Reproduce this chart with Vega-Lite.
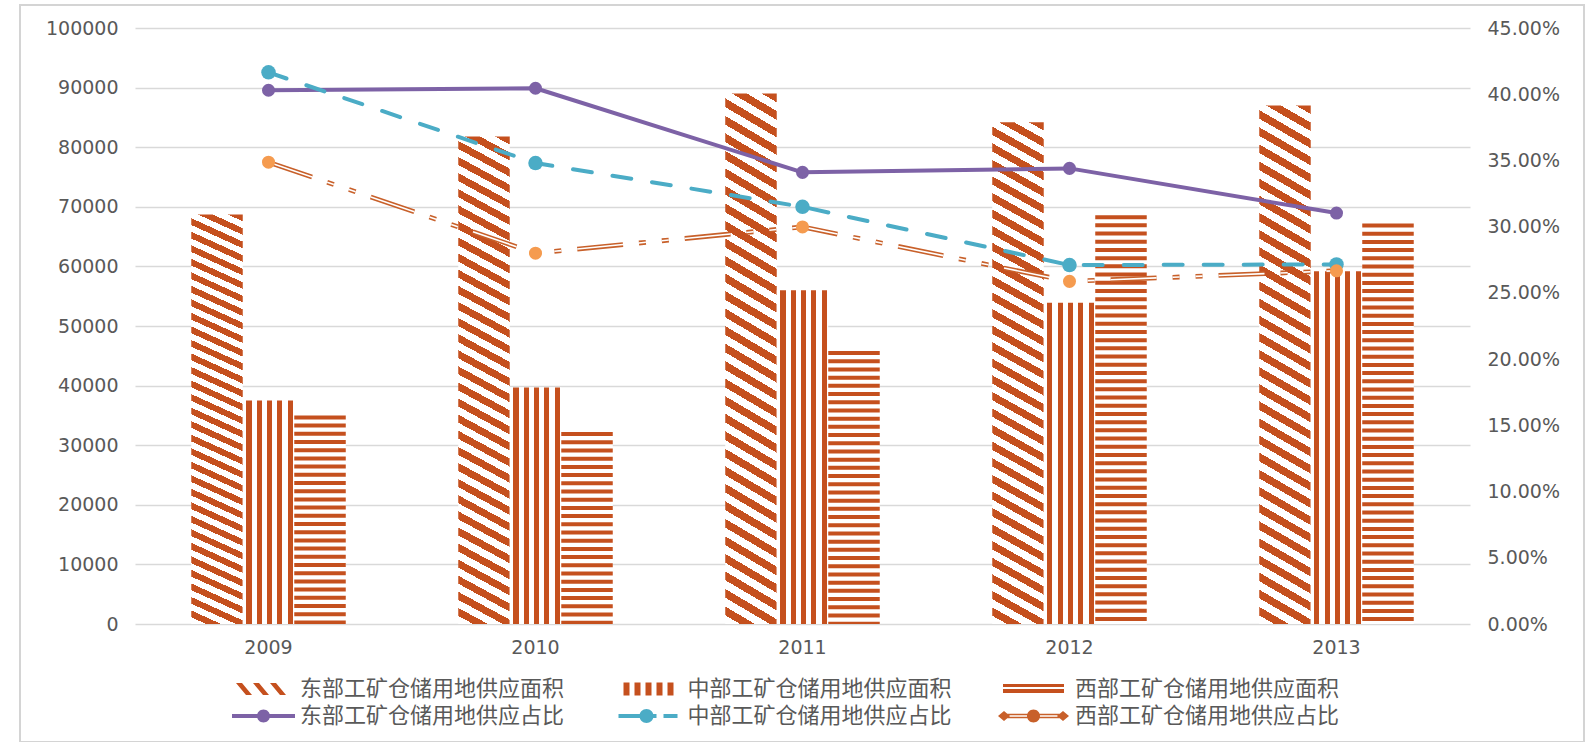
{
  "$schema": "https://vega.github.io/schema/vega-lite/v6.json",
  "autosize": "none",
  "width": 1564,
  "height": 737,
  "padding": {"left": 20, "top": 5, "right": 3, "bottom": 0},
  "view": {"stroke": "#d4d4d4", "strokeWidth": 2},
  "config": {
    "font": "DejaVu Sans",
    "axis": {"labelFont": "DejaVu Sans", "labelFontSize": 19, "labelColor": "#595959"},
    "legend": {"labelFont": "Noto Sans CJK SC"}
  },
  "datasets": {
    "面积": [
      {"年份": "2009", "区域": "东部", "值": 68700},
      {"年份": "2009", "区域": "中部", "值": 37500},
      {"年份": "2009", "区域": "西部", "值": 35000},
      {"年份": "2010", "区域": "东部", "值": 81800},
      {"年份": "2010", "区域": "中部", "值": 39700},
      {"年份": "2010", "区域": "西部", "值": 32200},
      {"年份": "2011", "区域": "东部", "值": 89000},
      {"年份": "2011", "区域": "中部", "值": 56000},
      {"年份": "2011", "区域": "西部", "值": 45800},
      {"年份": "2012", "区域": "东部", "值": 84200},
      {"年份": "2012", "区域": "中部", "值": 53900},
      {"年份": "2012", "区域": "西部", "值": 68600},
      {"年份": "2013", "区域": "东部", "值": 87000},
      {"年份": "2013", "区域": "中部", "值": 59200},
      {"年份": "2013", "区域": "西部", "值": 67200}
    ],
    "占比": [
      {"年份": "2009", "区域": "东部", "占比": 0.403},
      {"年份": "2010", "区域": "东部", "占比": 0.4045},
      {"年份": "2011", "区域": "东部", "占比": 0.341},
      {"年份": "2012", "区域": "东部", "占比": 0.344},
      {"年份": "2013", "区域": "东部", "占比": 0.3103},
      {"年份": "2009", "区域": "中部", "占比": 0.4165},
      {"年份": "2010", "区域": "中部", "占比": 0.348},
      {"年份": "2011", "区域": "中部", "占比": 0.315},
      {"年份": "2012", "区域": "中部", "占比": 0.271},
      {"年份": "2013", "区域": "中部", "占比": 0.2715},
      {"年份": "2009", "区域": "西部", "占比": 0.3487},
      {"年份": "2010", "区域": "西部", "占比": 0.28},
      {"年份": "2011", "区域": "西部", "占比": 0.2998},
      {"年份": "2012", "区域": "西部", "占比": 0.2587},
      {"年份": "2013", "区域": "西部", "占比": 0.2667}
    ],
    "图例": [
      {"系列": "东部工矿仓储用地供应面积"},
      {"系列": "中部工矿仓储用地供应面积"},
      {"系列": "西部工矿仓储用地供应面积"},
      {"系列": "东部工矿仓储用地供应占比"},
      {"系列": "中部工矿仓储用地供应占比"},
      {"系列": "西部工矿仓储用地供应占比"}
    ]
  },
  "layer": [
    {
      "data": {"name": "面积"},
      "layer": [
        {
          "transform": [{"filter": {"field": "区域", "equal": "西部"}}],
          "mark": {"type": "bar", "fill": "#ffffff", "stroke": null},
          "encoding": {
            "x": {
              "field": "年份", "type": "ordinal",
              "scale": {"range": [115, 1450], "paddingInner": 0.4213, "paddingOuter": 0.2107},
              "axis": {
                "title": null, "orient": "bottom", "offset": -95, "ticks": false, "domain": false,
                "grid": false, "labelAngle": 0, "labelBaseline": "middle", "labelPadding": 0
              }
            },
            "xOffset": {"field": "区域", "type": "nominal", "scale": {"domain": ["东部", "中部", "西部"], "paddingInner": 0, "paddingOuter": 0}},
            "y": {
              "field": "值", "type": "quantitative",
              "scale": {"domain": [0, 100000], "range": [619, 23], "nice": false},
              "axis": {
                "title": null, "orient": "left", "offset": -98, "format": "d",
                "values": [0, 10000, 20000, 30000, 40000, 50000, 60000, 70000, 80000, 90000, 100000],
                "domain": false, "ticks": false, "labelPadding": 0,
                "grid": true, "gridColor": "#d9d9d9", "gridWidth": 1.3
              }
            }
          }
        },
        {
          "transform": [{"filter": {"field": "区域", "equal": "东部"}}],
          "mark": {
            "type": "bar", "stroke": null,
            "fill": {
              "gradient": "linear", "x1": 1, "y1": 0, "x2": 0.9398, "y2": 1.0537,
              "stops": [
                {"offset": 0, "color": "#c5501e"}, {"offset": 0.015625, "color": "#c5501e"}, {"offset": 0.015625, "color": "#ffffff"}, {"offset": 0.03125, "color": "#ffffff"},
                {"offset": 0.03125, "color": "#c5501e"}, {"offset": 0.046875, "color": "#c5501e"}, {"offset": 0.046875, "color": "#ffffff"}, {"offset": 0.0625, "color": "#ffffff"},
                {"offset": 0.0625, "color": "#c5501e"}, {"offset": 0.078125, "color": "#c5501e"}, {"offset": 0.078125, "color": "#ffffff"}, {"offset": 0.09375, "color": "#ffffff"},
                {"offset": 0.09375, "color": "#c5501e"}, {"offset": 0.109375, "color": "#c5501e"}, {"offset": 0.109375, "color": "#ffffff"}, {"offset": 0.125, "color": "#ffffff"},
                {"offset": 0.125, "color": "#c5501e"}, {"offset": 0.140625, "color": "#c5501e"}, {"offset": 0.140625, "color": "#ffffff"}, {"offset": 0.15625, "color": "#ffffff"},
                {"offset": 0.15625, "color": "#c5501e"}, {"offset": 0.171875, "color": "#c5501e"}, {"offset": 0.171875, "color": "#ffffff"}, {"offset": 0.1875, "color": "#ffffff"},
                {"offset": 0.1875, "color": "#c5501e"}, {"offset": 0.203125, "color": "#c5501e"}, {"offset": 0.203125, "color": "#ffffff"}, {"offset": 0.21875, "color": "#ffffff"},
                {"offset": 0.21875, "color": "#c5501e"}, {"offset": 0.234375, "color": "#c5501e"}, {"offset": 0.234375, "color": "#ffffff"}, {"offset": 0.25, "color": "#ffffff"},
                {"offset": 0.25, "color": "#c5501e"}, {"offset": 0.265625, "color": "#c5501e"}, {"offset": 0.265625, "color": "#ffffff"}, {"offset": 0.28125, "color": "#ffffff"},
                {"offset": 0.28125, "color": "#c5501e"}, {"offset": 0.296875, "color": "#c5501e"}, {"offset": 0.296875, "color": "#ffffff"}, {"offset": 0.3125, "color": "#ffffff"},
                {"offset": 0.3125, "color": "#c5501e"}, {"offset": 0.328125, "color": "#c5501e"}, {"offset": 0.328125, "color": "#ffffff"}, {"offset": 0.34375, "color": "#ffffff"},
                {"offset": 0.34375, "color": "#c5501e"}, {"offset": 0.359375, "color": "#c5501e"}, {"offset": 0.359375, "color": "#ffffff"}, {"offset": 0.375, "color": "#ffffff"},
                {"offset": 0.375, "color": "#c5501e"}, {"offset": 0.390625, "color": "#c5501e"}, {"offset": 0.390625, "color": "#ffffff"}, {"offset": 0.40625, "color": "#ffffff"},
                {"offset": 0.40625, "color": "#c5501e"}, {"offset": 0.421875, "color": "#c5501e"}, {"offset": 0.421875, "color": "#ffffff"}, {"offset": 0.4375, "color": "#ffffff"},
                {"offset": 0.4375, "color": "#c5501e"}, {"offset": 0.453125, "color": "#c5501e"}, {"offset": 0.453125, "color": "#ffffff"}, {"offset": 0.46875, "color": "#ffffff"},
                {"offset": 0.46875, "color": "#c5501e"}, {"offset": 0.484375, "color": "#c5501e"}, {"offset": 0.484375, "color": "#ffffff"}, {"offset": 0.5, "color": "#ffffff"},
                {"offset": 0.5, "color": "#c5501e"}, {"offset": 0.515625, "color": "#c5501e"}, {"offset": 0.515625, "color": "#ffffff"}, {"offset": 0.53125, "color": "#ffffff"},
                {"offset": 0.53125, "color": "#c5501e"}, {"offset": 0.546875, "color": "#c5501e"}, {"offset": 0.546875, "color": "#ffffff"}, {"offset": 0.5625, "color": "#ffffff"},
                {"offset": 0.5625, "color": "#c5501e"}, {"offset": 0.578125, "color": "#c5501e"}, {"offset": 0.578125, "color": "#ffffff"}, {"offset": 0.59375, "color": "#ffffff"},
                {"offset": 0.59375, "color": "#c5501e"}, {"offset": 0.609375, "color": "#c5501e"}, {"offset": 0.609375, "color": "#ffffff"}, {"offset": 0.625, "color": "#ffffff"},
                {"offset": 0.625, "color": "#c5501e"}, {"offset": 0.640625, "color": "#c5501e"}, {"offset": 0.640625, "color": "#ffffff"}, {"offset": 0.65625, "color": "#ffffff"},
                {"offset": 0.65625, "color": "#c5501e"}, {"offset": 0.671875, "color": "#c5501e"}, {"offset": 0.671875, "color": "#ffffff"}, {"offset": 0.6875, "color": "#ffffff"},
                {"offset": 0.6875, "color": "#c5501e"}, {"offset": 0.703125, "color": "#c5501e"}, {"offset": 0.703125, "color": "#ffffff"}, {"offset": 0.71875, "color": "#ffffff"},
                {"offset": 0.71875, "color": "#c5501e"}, {"offset": 0.734375, "color": "#c5501e"}, {"offset": 0.734375, "color": "#ffffff"}, {"offset": 0.75, "color": "#ffffff"},
                {"offset": 0.75, "color": "#c5501e"}, {"offset": 0.765625, "color": "#c5501e"}, {"offset": 0.765625, "color": "#ffffff"}, {"offset": 0.78125, "color": "#ffffff"},
                {"offset": 0.78125, "color": "#c5501e"}, {"offset": 0.796875, "color": "#c5501e"}, {"offset": 0.796875, "color": "#ffffff"}, {"offset": 0.8125, "color": "#ffffff"},
                {"offset": 0.8125, "color": "#c5501e"}, {"offset": 0.828125, "color": "#c5501e"}, {"offset": 0.828125, "color": "#ffffff"}, {"offset": 0.84375, "color": "#ffffff"},
                {"offset": 0.84375, "color": "#c5501e"}, {"offset": 0.859375, "color": "#c5501e"}, {"offset": 0.859375, "color": "#ffffff"}, {"offset": 0.875, "color": "#ffffff"},
                {"offset": 0.875, "color": "#c5501e"}, {"offset": 0.890625, "color": "#c5501e"}, {"offset": 0.890625, "color": "#ffffff"}, {"offset": 0.90625, "color": "#ffffff"},
                {"offset": 0.90625, "color": "#c5501e"}, {"offset": 0.921875, "color": "#c5501e"}, {"offset": 0.921875, "color": "#ffffff"}, {"offset": 0.9375, "color": "#ffffff"},
                {"offset": 0.9375, "color": "#c5501e"}, {"offset": 0.953125, "color": "#c5501e"}, {"offset": 0.953125, "color": "#ffffff"}, {"offset": 0.96875, "color": "#ffffff"},
                {"offset": 0.96875, "color": "#c5501e"}, {"offset": 0.984375, "color": "#c5501e"}, {"offset": 0.984375, "color": "#ffffff"}, {"offset": 1, "color": "#ffffff"}
              ]
            }
          },
          "encoding": {
            "x": {"field": "年份", "type": "ordinal"},
            "xOffset": {"field": "区域", "type": "nominal"},
            "y": {"field": "值", "type": "quantitative"}
          }
        },
        {
          "transform": [{"filter": {"field": "区域", "equal": "中部"}}],
          "mark": {
            "type": "bar", "stroke": null,
            "fill": {
              "gradient": "linear", "x1": 0, "y1": 0, "x2": 1, "y2": 0,
              "stops": [
                {"offset": 0, "color": "#ffffff"}, {"offset": 0.07, "color": "#ffffff"},
                {"offset": 0.07, "color": "#c5501e"}, {"offset": 0.17, "color": "#c5501e"},
                {"offset": 0.17, "color": "#ffffff"}, {"offset": 0.27, "color": "#ffffff"},
                {"offset": 0.27, "color": "#c5501e"}, {"offset": 0.37, "color": "#c5501e"},
                {"offset": 0.37, "color": "#ffffff"}, {"offset": 0.47, "color": "#ffffff"},
                {"offset": 0.47, "color": "#c5501e"}, {"offset": 0.57, "color": "#c5501e"},
                {"offset": 0.57, "color": "#ffffff"}, {"offset": 0.67, "color": "#ffffff"},
                {"offset": 0.67, "color": "#c5501e"}, {"offset": 0.77, "color": "#c5501e"},
                {"offset": 0.77, "color": "#ffffff"}, {"offset": 0.87, "color": "#ffffff"},
                {"offset": 0.87, "color": "#c5501e"}, {"offset": 0.97, "color": "#c5501e"},
                {"offset": 0.97, "color": "#ffffff"}, {"offset": 1, "color": "#ffffff"}
              ]
            }
          },
          "encoding": {
            "x": {"field": "年份", "type": "ordinal"},
            "xOffset": {"field": "区域", "type": "nominal"},
            "y": {"field": "值", "type": "quantitative"}
          }
        },
        {
          "transform": [{"filter": {"field": "区域", "equal": "西部"}}],
          "mark": {"type": "rule", "color": "#c5501e", "strokeWidth": 51.5, "strokeCap": "butt", "strokeDash": [4, 4.2]},
          "encoding": {
            "x": {"field": "年份", "type": "ordinal"},
            "xOffset": {"field": "区域", "type": "nominal"},
            "y": {"field": "值", "type": "quantitative"},
            "y2": {"datum": 0}
          }
        }
      ]
    },
    {
      "data": {"name": "占比"},
      "layer": [
        {
          "transform": [{"filter": {"field": "区域", "equal": "东部"}}],
          "mark": {
            "type": "line", "stroke": "#7d62a6", "strokeWidth": 4, "strokeCap": "round", "strokeJoin": "round",
            "point": {"filled": true, "size": 170, "fill": "#7d62a6"}
          },
          "encoding": {
            "x": {"field": "年份", "type": "ordinal"},
            "y": {
              "field": "占比", "type": "quantitative",
              "scale": {"domain": [0, 0.45], "range": [619, 23], "nice": false},
              "axis": {
                "title": null, "orient": "right", "offset": -97, "format": ".2%",
                "values": [0, 0.05, 0.1, 0.15, 0.2, 0.25, 0.3, 0.35, 0.4, 0.45],
                "domain": false, "ticks": false, "labelPadding": 0, "grid": false
              }
            }
          }
        },
        {
          "transform": [{"filter": {"field": "区域", "equal": "中部"}}],
          "mark": {
            "type": "line", "stroke": "#4bacc6", "strokeWidth": 4, "strokeCap": "round", "strokeDash": [19, 21],
            "point": {"filled": true, "size": 210, "fill": "#4bacc6"}
          },
          "encoding": {
            "x": {"field": "年份", "type": "ordinal"},
            "y": {"field": "占比", "type": "quantitative"}
          }
        },
        {
          "transform": [{"filter": {"field": "区域", "equal": "西部"}}],
          "mark": {"type": "line", "stroke": "#c8602a", "strokeWidth": 4.8, "strokeCap": "butt", "strokeDash": [46, 16, 7, 16, 7, 16]},
          "encoding": {
            "x": {"field": "年份", "type": "ordinal"},
            "y": {"field": "占比", "type": "quantitative"}
          }
        },
        {
          "transform": [{"filter": {"field": "区域", "equal": "西部"}}],
          "mark": {"type": "line", "stroke": "#ffffff", "strokeWidth": 1.6, "strokeCap": "butt", "strokeDash": [46, 16, 7, 16, 7, 16]},
          "encoding": {
            "x": {"field": "年份", "type": "ordinal"},
            "y": {"field": "占比", "type": "quantitative"}
          }
        },
        {
          "transform": [{"filter": {"field": "区域", "equal": "西部"}}],
          "mark": {"type": "point", "filled": true, "size": 170, "fill": "#f59b4f", "opacity": 1},
          "encoding": {
            "x": {"field": "年份", "type": "ordinal"},
            "y": {"field": "占比", "type": "quantitative"}
          }
        },
        {
          "data": {"name": "图例"},
          "mark": {"type": "point", "filled": true, "opacity": 0},
          "encoding": {
            "color": {
              "field": "系列", "type": "nominal",
              "scale": {
                "domain": ["东部工矿仓储用地供应面积", "中部工矿仓储用地供应面积", "西部工矿仓储用地供应面积", "东部工矿仓储用地供应占比", "中部工矿仓储用地供应占比", "西部工矿仓储用地供应占比"],
                "range": ["#c5501e", "#c5501e", "#c5501e", "#7d62a6", "#4bacc6", "#c8602a"]
              },
              "legend": {
                "title": null, "orient": "none", "legendX": 192, "legendY": 673,
                "columns": 3, "direction": "horizontal", "gridAlign": "each",
                "columnPadding": 34.5, "rowPadding": 5,
                "symbolSize": 4, "symbolStrokeWidth": 0, "symbolOpacity": 1, "symbolOffset": 0,
                "labelFont": "Noto Sans CJK SC", "labelFontSize": 22, "labelColor": "#595959",
                "labelOffset": 66, "labelLimit": 400,
                "encode": {
                  "symbols": {
                    "update": {
                      "fill": [
                        {
                          "test": "datum.value === '西部工矿仓储用地供应占比'",
                          "value": {
                            "gradient": "linear", "x1": 0, "y1": 0, "x2": 1, "y2": 0,
                            "stops": [
                              {"offset": 0, "color": "#c5501e"}, {"offset": 0.4, "color": "#c5501e"},
                              {"offset": 0.4, "color": "#f59b4f"}, {"offset": 0.6, "color": "#f59b4f"},
                              {"offset": 0.6, "color": "#c5501e"}, {"offset": 1, "color": "#c5501e"}
                            ]
                          }
                        },
                        {"scale": "color", "field": "value"}
                      ]
                    }
                  }
                }
              }
            },
            "shape": {
              "field": "系列", "type": "nominal",
              "scale": {
                "domain": ["东部工矿仓储用地供应面积", "中部工矿仓储用地供应面积", "西部工矿仓储用地供应面积", "东部工矿仓储用地供应占比", "中部工矿仓储用地供应占比", "西部工矿仓储用地供应占比"],
                "range": [
                  "M0,0 M13,-6 L19,-6 L29,6 L23,6 Z M30,-6 L36,-6 L46,6 L40,6 Z M47,-6 L53,-6 L63,6 L57,6 Z",
                  "M0,0 M13,-6.5 L19,-6.5 L19,6.5 L13,6.5 Z M24,-6.5 L30,-6.5 L30,6.5 L24,6.5 Z M35,-6.5 L41,-6.5 L41,6.5 L35,6.5 Z M46,-6.5 L52,-6.5 L52,6.5 L46,6.5 Z M57,-6.5 L63,-6.5 L63,6.5 L57,6.5 Z",
                  "M0,0 M5,-5 L66,-5 L66,-2 L5,-2 Z M5,0 L66,0 L66,4 L5,4 Z",
                  "M0,0 M9,-2 L72,-2 L72,2 L9,2 Z M34,0 A6.5,6.5 0 1 1 47,0 A6.5,6.5 0 1 1 34,0 Z",
                  "M0,0 M8,-2 L30,-2 L30,2 L8,2 Z M29,0 A7,7 0 1 1 43,0 A7,7 0 1 1 29,0 Z M36,-2 L46,-2 L46,2 L36,2 Z M53,-2 L67,-2 L67,2 L53,2 Z",
                  "M0,0 L6,-5 L12,0 L6,5 Z M59,0 L65,-5 L71,0 L65,5 Z M6,-2.3 L65,-2.3 L65,-0.8 L6,-0.8 Z M6,0.8 L65,0.8 L65,2.3 L6,2.3 Z M29,0 A6.5,6.5 0 1 1 42,0 A6.5,6.5 0 1 1 29,0 Z"
                ]
              },
              "legend": {
                "title": null, "orient": "none", "legendX": 192, "legendY": 673,
                "columns": 3, "direction": "horizontal", "gridAlign": "each",
                "columnPadding": 34.5, "rowPadding": 5,
                "symbolSize": 4, "symbolStrokeWidth": 0, "symbolOpacity": 1, "symbolOffset": 0,
                "labelFont": "Noto Sans CJK SC", "labelFontSize": 22, "labelColor": "#595959",
                "labelOffset": 66, "labelLimit": 400
              }
            }
          }
        }
      ]
    }
  ],
  "resolve": {"scale": {"y": "independent"}}
}
